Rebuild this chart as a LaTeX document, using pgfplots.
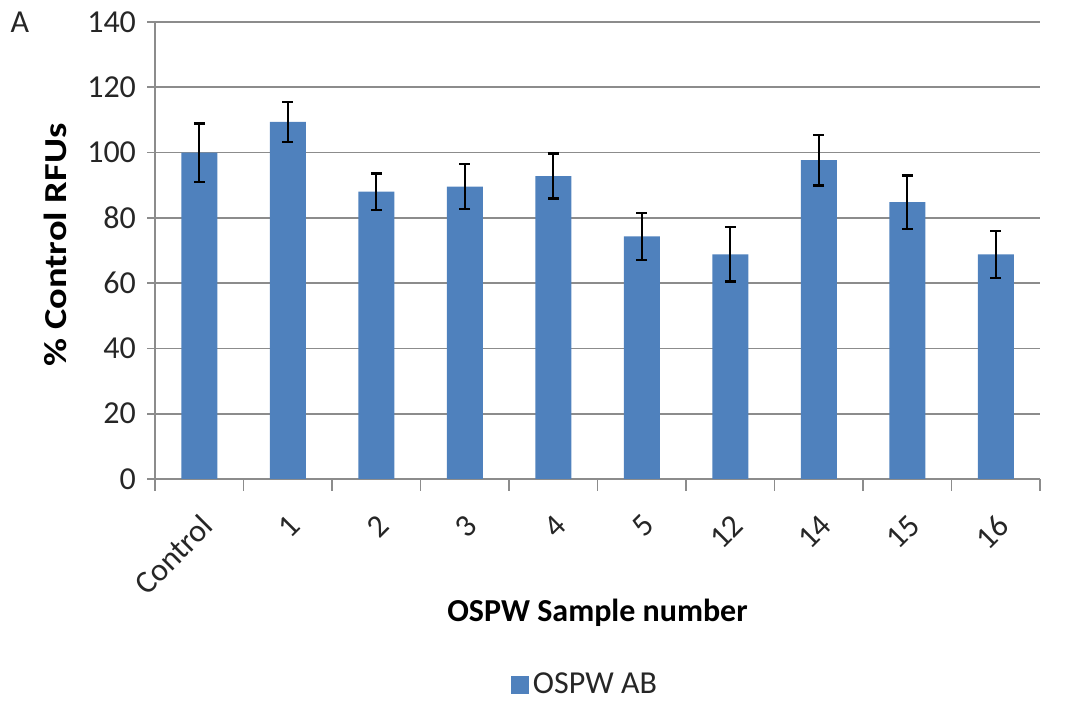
\documentclass[border=0pt]{standalone}
\usepackage{pgfplots}
\pgfplotsset{compat=1.18}
\usepackage{pgfplotstable}
\usepackage{graphicx}
\usepackage{fontspec}
\setmainfont{Carlito}
\definecolor{barblue}{HTML}{4F81BD}
\definecolor{gridgray}{HTML}{8C8C8C}
\definecolor{txt}{HTML}{262626}

\pgfplotstableread{
x y err
0 100.0 8.9
1 109.4 6.2
2 88.0 5.6
3 89.6 7.0
4 92.8 6.9
5 74.3 7.2
6 68.8 8.3
7 97.7 7.8
8 84.8 8.2
9 68.8 7.2
}\datatable

\begin{document}
\begin{tikzpicture}
\path[use as bounding box] (0pt,0pt) rectangle (533.5pt,352.5pt);
\node[anchor=center, font=\fontsize{16}{18}\selectfont, text=txt] at (10pt,341.5pt) {A};
\begin{axis}[
  at={(77.5pt,113pt)}, anchor=south west,
  scale only axis, width=442.5pt, height=228.5pt,
  xmin=-0.5, xmax=9.5, ymin=0, ymax=140,
  ytick={0,20,...,140},
  xtick={0,...,9},
  xticklabels={Control,1,2,3,4,5,12,14,15,16},
  minor xtick={-0.5,0.5,...,9.5},
  major x tick style={draw=none},
  minor x tick style={gridgray, line width=0.8pt},
  y tick style={gridgray, line width=0.8pt},
  tick align=outside,
  major tick length=4pt, minor tick length=6pt,
  ymajorgrids,
  grid style={gridgray, line width=0.9pt},
  axis x line*=bottom, axis y line*=left,
  axis line style={gridgray, line width=0.9pt, -},
  /pgf/number format/assume math mode=true,
  tick label style={font=\fontsize{16}{18}\selectfont, text=txt},
  yticklabel style={xshift=-2pt},
  xticklabel style={rotate=45, anchor=north east, inner sep=1pt, xshift=-8pt, yshift=-8pt},
  xlabel={\textbf{OSPW Sample number}},
  ylabel={\scalebox{1.2}[1]{\textbf{\% Control RFUs}}},
  label style={font=\fontsize{16}{18}\selectfont, text=black},
  xlabel style={at={(axis description cs:0.5,-0.293)}, anchor=center},
  ylabel style={at={(axis description cs:-0.113,0.512)}, anchor=center},
  legend style={at={(axis description cs:0.487,-0.45)}, anchor=center, draw=none,
    font=\fontsize{16}{18}\selectfont, text=txt, inner sep=0pt},
  legend image code/.code={\fill[barblue] (0pt,-4.5pt) rectangle (9pt,4.5pt);},
  clip=false,
]
\addplot[ybar, bar width=18pt, fill=barblue, draw=none,
  error bars/.cd, y dir=both, y explicit,
  error bar style={black, line width=1.1pt},
  error mark options={rotate=90, mark size=2.7pt, line width=1.1pt, black}]
  table[x=x, y=y, y error=err] {\datatable};
\addlegendentry{OSPW AB}
\end{axis}
\end{tikzpicture}
\end{document}
